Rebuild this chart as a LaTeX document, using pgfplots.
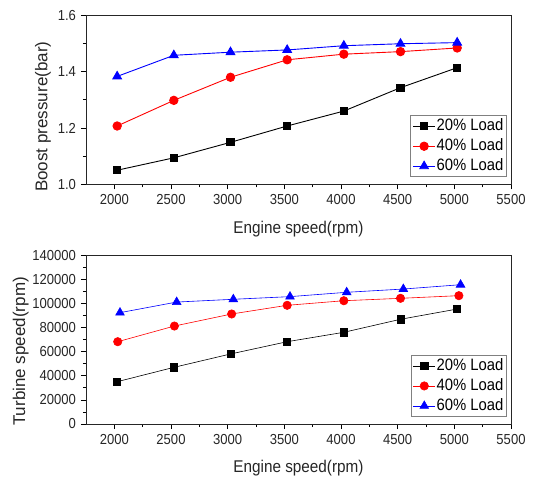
\documentclass[border=0pt]{standalone}
\usepackage{pgfplots}
\pgfplotsset{compat=1.18}
\usepackage{pgfplotstable}
\usepackage{fontspec}
\setmainfont[FakeStretch=0.9]{Liberation Sans}
\newfontfamily\ylabfont{Liberation Sans}

\pgfplotstableread{
x    l20   l40   l60
2025 1.050 1.207 1.383
2525 1.094 1.298 1.458
3025 1.149 1.380 1.469
3525 1.207 1.442 1.477
4025 1.260 1.462 1.492
4525 1.343 1.471 1.499
5025 1.414 1.484 1.503
}\boost

\pgfplotstableread{
x    l20   xb   l40    xc   l60
2025 35100 2030 68300  2050 92400
2525 47000 2530 81300  2550 101200
3025 58100 3035 91300  3050 103500
3525 68300 3525 98500  3550 105700
4025 76100 4025 102300 4050 109300
4525 86900 4525 104300 4550 112000
5025 95400 5040 106500 5055 115600
}\turbine

\pgfplotsset{
  myaxis/.style={
    scale only axis, width=425pt,
    xmin=1750, xmax=5500, xtick={2000,2500,...,5500}, minor x tick num=1,
    xtick pos=bottom, ytick pos=left, tick align=outside,
    major tick length=5pt, minor tick length=3pt,
    tick style={black, line width=0.8pt},
    axis line style={line width=0.9pt, black!85},
    /pgf/number format/assume math mode=true,
    ticklabel style={font=\fontsize{14.5}{16}\selectfont, black!85},
    xticklabel style={/pgf/number format/set thousands separator={}, yshift=-2pt},
    yticklabel style={xshift=-1.5pt},
    xlabel={Engine speed(rpm)},
    xlabel style={font=\fontsize{17}{19}\selectfont, black!85, yshift=-9pt},
    ylabel style={font=\ylabfont\fontsize{17}{19}\selectfont, black!85},
    legend style={at={(0.99,0.043)}, anchor=south east, draw=gray, line width=0.6pt,
      font=\fontsize{16.5}{18}\selectfont, inner xsep=2pt, inner ysep=2pt, row sep=3pt,
      nodes={inner sep=1pt, text height=12pt, text depth=3pt}},
    legend cell align=left,
    legend image code/.code={\draw[mark repeat=2,mark phase=2,#1] plot coordinates {(0pt,0pt) (11pt,0pt) (22pt,0pt)};},
  },
  s20/.style={black, line width=0.9pt, mark=square*, mark size=3.6pt, mark options={solid}},
  s40/.style={red, line width=0.9pt, mark=*, mark size=4.2pt, mark options={solid}},
  s60/.style={blue, line width=0.9pt, mark=triangle*, mark size=5pt, mark options={solid}},
}

\begin{document}
\begin{tikzpicture}
\useasboundingbox (0pt,0pt) rectangle (535pt,479pt);
\begin{axis}[myaxis, at={(86pt,294.7pt)}, anchor=south west, height=169pt,
  ymin=1.0, ymax=1.6, ytick={1.0,1.2,1.4,1.6}, minor y tick num=1,
  yticklabel style={/pgf/number format/.cd, fixed, fixed zerofill, precision=1},
  ylabel={Boost pressure(bar)}, ylabel style={at={(ticklabel cs:0.40)}}]
\addplot[s20] table[x=x, y=l20] {\boost};
\addplot[s40] table[x=x, y=l40] {\boost};
\addplot[s60] table[x=x, y=l60] {\boost};
\legend{20\% Load, 40\% Load, 60\% Load}
\end{axis}
\begin{axis}[myaxis, at={(86pt,55pt)}, anchor=south west, height=168.7pt,
  ymin=0, ymax=140000, ytick={0,20000,...,140000}, minor y tick num=1,
  scaled y ticks=false,
  yticklabel style={/pgf/number format/.cd, fixed, set thousands separator={}},
  ylabel={Turbine speed(rpm)}, ylabel style={at={(ticklabel cs:0.43)}, yshift=-3pt}]
\addplot[s20, line width=0.6pt] table[x=x, y=l20] {\turbine};
\addplot[s40, line width=0.6pt] table[x=xb, y=l40] {\turbine};
\addplot[s60, line width=0.6pt] table[x=xc, y=l60] {\turbine};
\legend{20\% Load, 40\% Load, 60\% Load}
\end{axis}
\end{tikzpicture}
\end{document}
